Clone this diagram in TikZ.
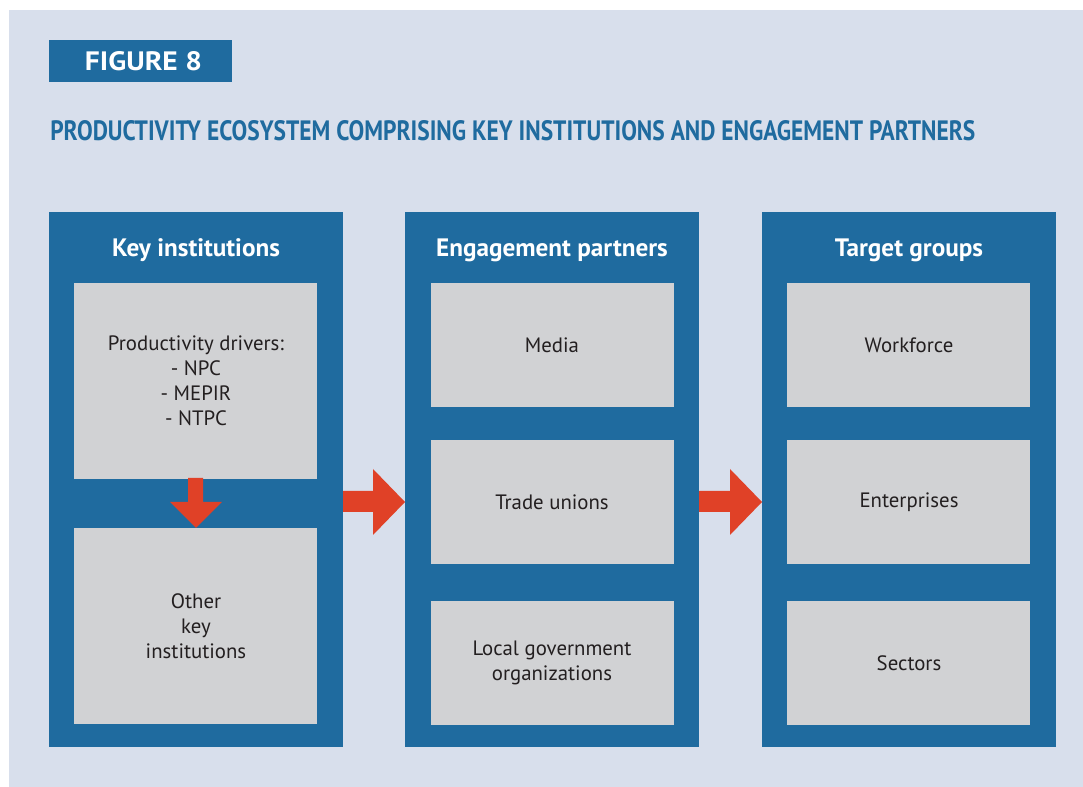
\documentclass[tikz,border=0pt]{standalone}
\usepackage{fontspec}
\usepackage{graphicx}
\setmainfont{PT Sans}
\usetikzlibrary{positioning,calc}
\definecolor{panelbg}{RGB}{216,223,236}
\definecolor{colblue}{RGB}{31,107,159}
\definecolor{boxgray}{RGB}{209,210,212}
\definecolor{arrowred}{RGB}{224,65,39}
\definecolor{txt}{RGB}{35,31,32}
\begin{document}
\begin{tikzpicture}[x=0.75pt,y=-0.75pt,
  column/.style={fill=colblue,draw=none},
  cell/.style={fill=boxgray,draw=none},
  celltext/.style={font=\fontsize{15.6pt}{18.8pt}\selectfont,text=txt,align=center,inner sep=0pt},
  heading/.style={font=\fontsize{18.9pt}{21pt}\selectfont\bfseries,text=white,inner sep=0pt},
  blockarrow/.style={fill=arrowred,draw=none}]
\useasboundingbox (0,0) rectangle (1083,787);
\fill[panelbg] (9,10) rectangle (1083,787);

% label tab and title
\fill[colblue] (49,40) rectangle (232,82);
\node[anchor=base,inner sep=0pt,text=white] (figlabel) at (143.5,71)
  {\resizebox{87.75pt}{14.25pt}{\bfseries FIGURE 8}};
\node[anchor=base west,inner sep=0pt,text=colblue] (title) at (50,141)
  {\resizebox{693.75pt}{15pt}{\bfseries PRODUCTIVITY ECOSYSTEM COMPRISING KEY INSTITUTIONS AND ENGAGEMENT PARTNERS}};

% three columns
\fill[column] (49,212) rectangle (343,747);
\fill[column] (405,212) rectangle (699,747);
\fill[column] (762,212) rectangle (1056,747);
\node[heading] (h1) at (196,250) {Key institutions};
\node[heading] (h2) at (552,250) {Engagement partners};
\node[heading] (h3) at (909,250) {Target groups};

% key institutions
\fill[cell] (74,283) rectangle (317,479);
\fill[cell] (74,528) rectangle (317,724);
\node[celltext] (drivers) at (196,381) {Productivity drivers:\\- NPC\\- MEPIR\\- NTPC};
\node[celltext] (other) at (196,626) {Other\\key\\institutions};

% engagement partners
\fill[cell] (431,283) rectangle (674,407);
\fill[cell] (431,440) rectangle (674,564);
\fill[cell] (431,601) rectangle (674,725);
\node[celltext] (media) at (552,345) {Media};
\node[celltext] (unions) at (552,502) {Trade unions};
\node[celltext] (localgov) at (552,663) {Local government\\organizations};

% target groups
\fill[cell] (787,283) rectangle (1030,407);
\fill[cell] (787,440) rectangle (1030,564);
\fill[cell] (787,601) rectangle (1030,725);
\node[celltext] (workforce) at (909,345) {Workforce};
\node[celltext] (enterprises) at (909,502) {Enterprises};
\node[celltext] (sectors) at (909,663) {Sectors};

% block arrows
\fill[blockarrow] (188,478) -- (203,478) -- (203,502) -- (222,502) -- (196,528)
  -- (170,502) -- (188,502) -- cycle;
\fill[blockarrow] (343,491) -- (373,491) -- (373,469) -- (405,502) -- (373,535)
  -- (373,512) -- (343,512) -- cycle;
\fill[blockarrow] (699,491) -- (730,491) -- (730,469) -- (762,502) -- (730,535)
  -- (730,512) -- (699,512) -- cycle;
\end{tikzpicture}
\end{document}
